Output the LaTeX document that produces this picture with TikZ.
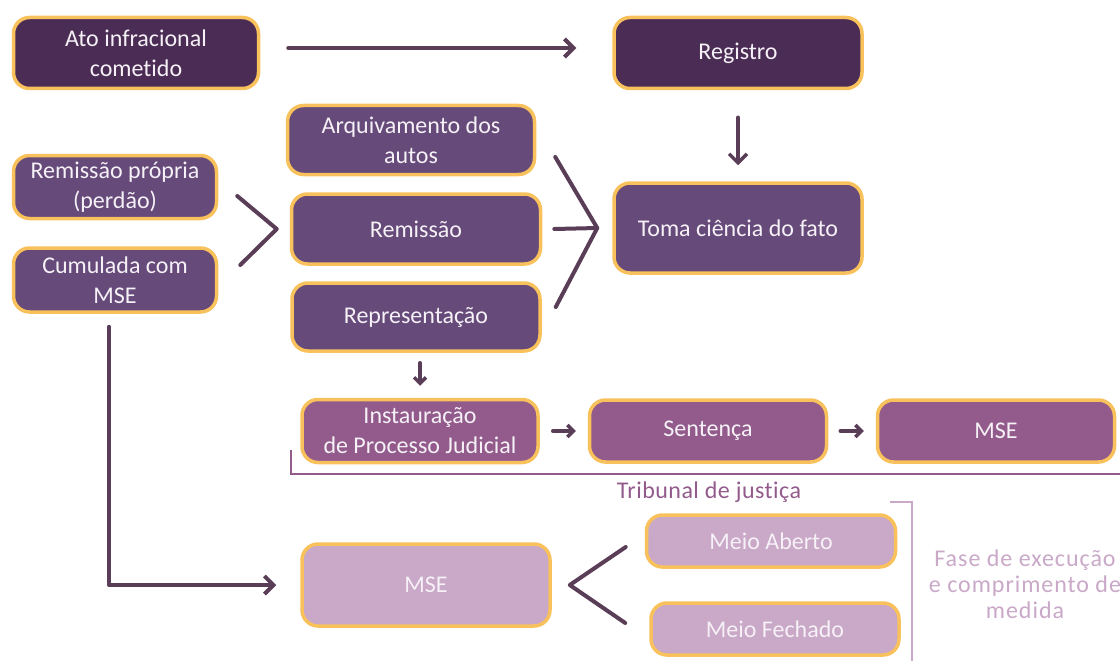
\documentclass[tikz,border=0pt]{standalone}
\usepackage{fontspec}
\setmainfont{Carlito}[Ligatures=NoCommon]
\usetikzlibrary{calc,arrows.meta}

\definecolor{plumdark}{HTML}{4B2C55}
\definecolor{plummid}{HTML}{654A7A}
\definecolor{plumlight}{HTML}{925B8C}
\definecolor{plumpale}{HTML}{C9A8C8}
\definecolor{rimgold}{HTML}{F9C15B}
\definecolor{linkplum}{HTML}{5A3D57}
\definecolor{boxtext}{HTML}{F6F1F6}

\tikzset{
  box/.style={draw=rimgold,line width=3.5pt,rounded corners=16pt,text=boxtext,align=center,
    font=\fontsize{24}{30}\selectfont,inner sep=0pt},
  link/.style={draw=linkplum,line width=4pt,line cap=round,line join=round},
  tip/.style={link,-{Straight Barb[length=9pt,width=18pt]}},
  smalltip/.style={link,line width=3.5pt,-{Straight Barb[length=6pt,width=12pt]}},
  brace/.style={line width=2pt},
}

\begin{document}
\begin{tikzpicture}[x=1pt,y=-1pt]
  \useasboundingbox (0,0) rectangle (1120,661);

  \node[box,fill=plumdark,minimum width=245pt,minimum height=71pt] (ato) at (136,53) {Ato infracional\\cometido};
  \node[box,fill=plumdark,minimum width=248pt,minimum height=71pt] (registro) at (738,53) {Registro};
  \node[box,fill=plummid,minimum width=247pt,minimum height=69pt] (arquivo) at (411,140) {Arquivamento dos\\autos};
  \node[box,fill=plummid,minimum width=203pt,minimum height=63pt] (propria) at (115,187) {Remissão própria\\(perdão)};
  \node[box,fill=plummid,minimum width=203pt,minimum height=64pt] (cumulada) at (115,280) {Cumulada com\\MSE};
  \node[box,fill=plummid,minimum width=249pt,minimum height=70pt] (remissao) at (416,229) {Remissão};
  \node[box,fill=plummid,minimum width=248pt,minimum height=68pt] (repres) at (416,317) {Representação};
  \node[box,fill=plummid,minimum width=248pt,minimum height=90pt] (ciencia) at (738,228) {Toma ciência do fato};
  \node[box,fill=plumlight,minimum width=236pt,minimum height=63pt] (instaura) at (420,431) {Instauração\\de Processo Judicial};
  \node[box,fill=plumlight,minimum width=237pt,minimum height=62pt] (sentenca) at (708,431) {Sentença};
  \node[box,fill=plumlight,minimum width=237pt,minimum height=62pt] (msetop) at (996,431) {MSE};
  \node[box,fill=plumpale,minimum width=248pt,minimum height=82pt] (msebot) at (426,585) {MSE};
  \node[box,fill=plumpale,minimum width=249pt,minimum height=52pt] (aberto) at (771,541) {Meio Aberto};
  \node[box,fill=plumpale,minimum width=248pt,minimum height=52pt] (fechado) at (775,629) {Meio Fechado};

  \draw[tip,shorten <=28pt,shorten >=36pt] (ato.east |- 0,48) -- (registro.west |- 0,48);
  \draw[tip,line width=3.5pt,shorten <=27pt,shorten >=16pt] (registro) -- (ciencia);
  \draw[link] ($(propria.east)+(19,9)$) -- ($(remissao.west)+(-13,0)$) -- ($(cumulada.east)+(22,-15)$);
  \draw[link] ($(arquivo.east)+(19,17)$) -- ($(ciencia.west)+(-15,0)$) -- ($(repres.east)+(14,-10)$);
  \draw[link] ($(remissao.east)+(12,0)$) -- ($(ciencia.west)+(-15,0)$);
  \draw[smalltip,shorten <=10pt,shorten >=12pt] (repres.south -| instaura) -- (instaura);
  \draw[smalltip,shorten <=13pt,shorten >=12pt] (instaura) -- (sentenca);
  \draw[smalltip,shorten <=12pt,shorten >=12pt] (sentenca) -- (msetop);
  \draw[tip] ($(cumulada.south)+(-6,13)$) |- ($(msebot.west)+(-24,0)$);
  \draw[link] ($(aberto.west)+(-19,6)$) -- ($(msebot.east)+(18,0)$) -- ($(fechado.west)+(-24,-6)$);

  \draw[brace,draw=plumlight] (291,450) |- (1120,474);
  \node[text=plumlight,font=\fontsize{24}{29}\selectfont\addfontfeature{LetterSpace=2}] (tribunal) at (709,492) {Tribunal de justiça};
  \draw[brace,draw=plumpale] (890,502) -| (912,661);
  \node[text=plumpale,align=center,font=\fontsize{24}{26}\selectfont\addfontfeature{LetterSpace=4}] (fase) at (1025,584) {Fase de execução\\e comprimento de\\medida};
\end{tikzpicture}
\end{document}
